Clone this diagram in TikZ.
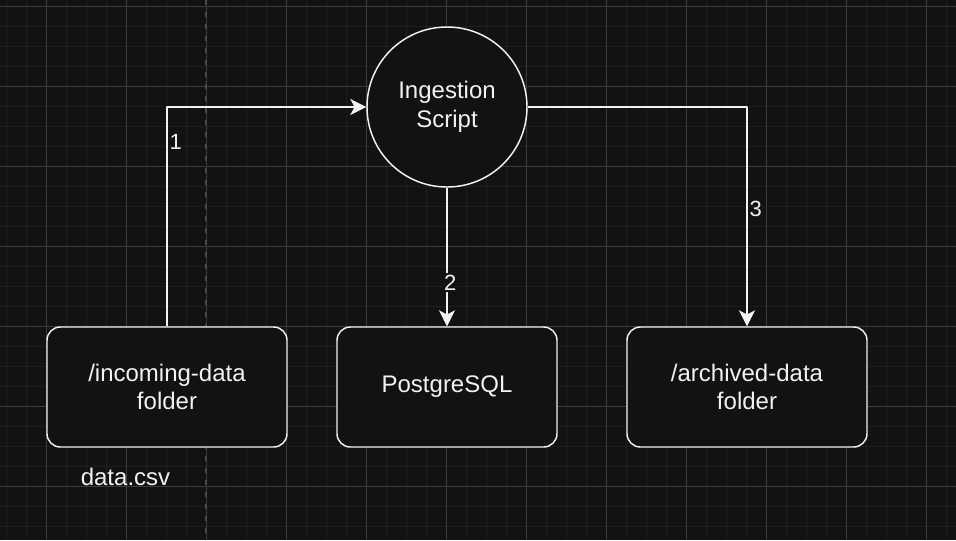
\documentclass[tikz,border=0pt]{standalone}
\usepackage{fontspec}
\setmainfont{Liberation Sans}
\usetikzlibrary{arrows.meta}
\usetikzlibrary{positioning}
\definecolor{bgc}{HTML}{121212}
\definecolor{minorc}{HTML}{1E1E1E}
\definecolor{majorc}{HTML}{3C3C3C}
\definecolor{pagec}{HTML}{4A4A4A}
\definecolor{linec}{HTML}{F2F2F2}
\begin{document}
\begin{tikzpicture}[line cap=butt,line join=round,x=0.75pt,y=-0.75pt,
  >={Stealth[length=12pt,width=12pt,inset=3.2pt]},
  every node/.style={text=linec,font=\fontsize{18pt}{21.6pt}\selectfont},
  folder/.style={draw=linec,fill=bgc,line width=1.1pt,rounded corners=10pt,
    minimum width=180pt,minimum height=90pt,align=center},
  script/.style={draw=linec,fill=bgc,line width=1.1pt,circle,
    minimum size=120pt,inner sep=0pt,align=center},
  flow/.style={->,draw=linec,line width=1pt},
  steplabel/.style={font=\fontsize{16.5pt}{19.8pt}\selectfont,inner sep=1.5pt}]
% background and grid
\fill[bgc] (0,0) rectangle (956,540);
\useasboundingbox (0,0) rectangle (956,540);
\foreach \x in {6,26,...,946}
\draw[minorc,line width=0.75pt] (\x,0) -- (\x,540);
\foreach \y in {6,26,...,526}
\draw[minorc,line width=0.75pt] (0,\y) -- (956,\y);
\foreach \x in {46,126,...,926}
\draw[majorc,line width=0.75pt] (\x,0) -- (\x,540);
\foreach \y in {6,86,...,486}
\draw[majorc,line width=0.75pt] (0,\y) -- (956,\y);
\draw[pagec,line width=0.9pt,dash pattern=on 4pt off 5pt] (206,0) -- (206,540);
% nodes
\node[script] (ingest) at (447,107) {Ingestion\\Script};
\node[folder] (incoming) at (167,387) {/incoming-data\\folder};
\node[folder,minimum width=165pt] (postgres) at (447,387) {PostgreSQL};
\node[folder] (archived) at (747,387) {/archived-data\\folder};
\node (csv) at (125.5,477) {data.csv};
% connectors
\draw[flow] (incoming.north) |- (ingest.west)
  node[steplabel,pos=0.42,anchor=west] {1};
\draw[flow] (ingest.south) -- (postgres.north)
  node[steplabel,pos=0.686,fill=bgc,xshift=2.5pt] {2};
\draw[flow] (ingest.east) -| (archived.north)
  node[steplabel,pos=0.732,anchor=west] {3};
\end{tikzpicture}
\end{document}
